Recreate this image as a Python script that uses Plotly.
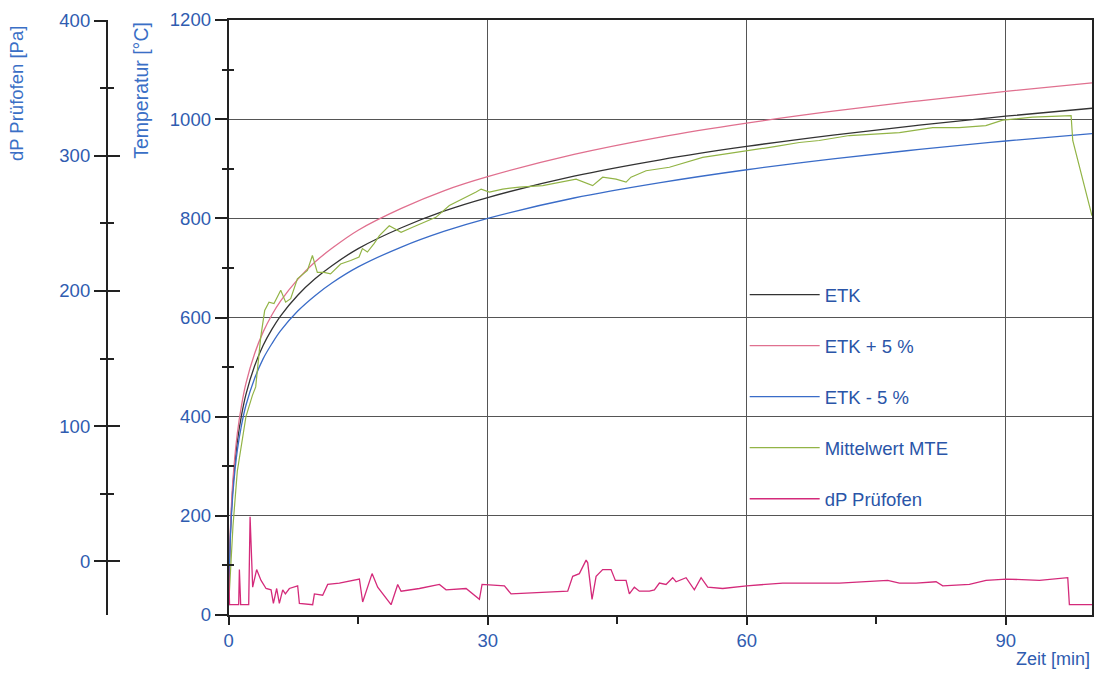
import plotly.graph_objects as go

# ---------------- data ----------------
etk_t = [0, 0.1, 0.25, 0.5, 1, 1.5, 2, 3, 4, 5, 6, 8, 10, 12, 15, 20, 25, 30, 40, 50, 60, 70, 80, 90, 100]
etk = [20, 108, 185, 261, 349, 404, 445, 502, 544, 576, 603, 645, 678, 705, 739, 781, 815, 842, 885, 918, 945, 968, 988, 1006, 1022]
etk_plus = [21, 113, 194, 274, 366, 424, 467, 527, 571, 605, 633, 677, 712, 740, 776, 820, 856, 884, 929, 964, 992, 1016, 1037, 1056, 1073]
etk_minus = [19, 103, 176, 248, 332, 384, 423, 477, 517, 547, 573, 613, 644, 670, 702, 742, 774, 800, 841, 872, 898, 920, 939, 956, 971]

mte_t = [0, 0.5, 1, 2, 2.75, 3.13, 3.71, 4.17, 4.67, 5.25, 6.03, 6.6, 7.18, 7.96, 9.12, 9.7, 10.27, 11.05, 11.8,
         12.97, 14.13, 15.1, 15.49, 16.07, 16.84, 17.46, 18.6, 19.2, 19.97, 21.3, 22.67, 24.0, 25.56, 27.5, 28.66,
         29.24, 30.2, 31.74, 33.67, 36.37, 38.3, 40.24, 42.16, 43.32, 44.87, 46.03, 46.6, 48.35, 51.05, 53.75, 54.9,
         57.6, 60.1, 63.4, 66.1, 68.4, 71.9, 77.7, 81.55, 84.6, 87.7, 89.66, 93.1, 97.0, 97.58, 97.77, 98.54, 99.3, 100]
mte = [20, 180, 290, 400, 443, 460, 560, 614, 631, 628, 655, 631, 638, 678, 695, 725, 691, 691, 688,
       708, 715, 722, 739, 732, 749, 765, 785, 779, 772, 782, 792, 802, 826, 842, 853,
       859, 853, 859, 863, 866, 873, 879, 866, 883, 879, 873, 883, 896, 903, 916, 923,
       930, 936, 945, 953, 957, 967, 973, 983, 983, 987, 998, 1004, 1007, 1007, 957, 903, 856, 805]

dp_t = [0, 0.1, 1.16, 1.24, 1.39, 2.32, 2.48, 2.78, 3.24, 3.75, 4.33, 4.91, 5.18, 5.56, 5.87, 6.26, 6.57, 7.03,
        7.99, 8.19, 9.73, 9.93, 10.89, 11.47, 12.82, 15.14, 15.52, 16.61, 17.26, 18.81, 19.58, 19.97, 22.09,
        24.41, 25.18, 27.5, 29.04, 29.35, 31.94, 32.71, 39.27, 39.85, 40.62, 41.4, 41.59, 42.09, 42.56, 43.32,
        44.29, 44.79, 46.03, 46.41, 46.99, 47.57, 48.73, 49.31, 49.89, 50.66, 51.43, 51.82, 52.98, 53.94, 54.72,
        55.49, 57.22, 60.0, 64.17, 70.74, 76.34, 77.69, 79.62, 81.94, 82.71, 85.8, 87.73, 90.05, 93.91, 97.19,
        97.38, 100]
dp = [-4, -32, -32, -6, -32, -32, 33, -19, -6, -14, -20, -21, -31, -20, -31, -21, -24, -20,
      -18, -31, -32, -24, -25, -17, -16, -13, -30, -9, -19, -32, -17, -22, -20,
      -17, -21, -20, -28, -17, -18, -24, -22, -11, -9, 1, -1, -28, -11, -6,
      -6, -14, -14, -24, -19, -22, -22, -21, -16, -17, -12, -15, -12, -21, -12,
      -19, -20, -18, -16, -16, -14, -16, -16, -15, -18, -17, -14, -13, -14, -12,
      -32, -32]

x_ticks = [0, 30, 60, 90]
x_minor = [15, 45, 75]
t_ticks = [0, 200, 400, 600, 800, 1000, 1200]
t_minor = [100, 300, 500, 700, 900, 1100]
p_ticks = [0, 100, 200, 300, 400]
p_minor = [50, 150, 250, 350]

# ---------------- style ----------------
FONT = "Liberation Sans, Arial, Helvetica, sans-serif"
BLUE = "#2f5cb0"
TITLE_BLUE = "#3a6fc6"
AX = "#222222"
GRID = "#555555"
TICK_FS = 18.5
LEG_FS = 18.5

W, H = 1099, 673
L, R, T, B = 60, 5, 20, 58
pw = W - L - R
ph = H - T - B
x0 = (229 - L) / pw
dp_pos = (107 - L) / pw

fig = go.Figure()
fig.add_trace(go.Scatter(x=etk_t, y=etk, name="ETK", mode="lines", legendgroup="g1",
                         line=dict(color="#333333", width=1.3, shape="spline")))
fig.add_trace(go.Scatter(x=etk_t, y=etk_plus, name="ETK + 5 %", mode="lines", legendgroup="g2",
                         line=dict(color="#e0708f", width=1.3, shape="spline")))
fig.add_trace(go.Scatter(x=etk_t, y=etk_minus, name="ETK - 5 %", mode="lines", legendgroup="g3",
                         line=dict(color="#3a6cc8", width=1.3, shape="spline")))
fig.add_trace(go.Scatter(x=mte_t, y=mte, name="Mittelwert MTE", mode="lines", legendgroup="g4",
                         line=dict(color="#92b446", width=1.2)))
fig.add_trace(go.Scatter(x=dp_t, y=dp, name="dP Prüfofen", mode="lines", legendgroup="g5", yaxis="y2",
                         line=dict(color="#d42a7a", width=1.3)))
# helper traces so that the tick-only overlay axes are drawn
fig.add_trace(go.Scatter(x=[None], y=[None], yaxis="y3", showlegend=False, hoverinfo="skip"))
fig.add_trace(go.Scatter(x=[None], y=[None], yaxis="y4", showlegend=False, hoverinfo="skip"))

fig.update_layout(
    width=W, height=H,
    margin=dict(l=L, r=R, t=T, b=B, pad=0),
    paper_bgcolor="white", plot_bgcolor="white",
    font=dict(family=FONT, size=TICK_FS, color=BLUE),
    xaxis=dict(domain=[x0, 1], range=[0, 100], tickmode="array", tickvals=x_ticks,
               ticks="outside", ticklen=8, tickwidth=1.5, tickcolor=AX,
               minor=dict(tickmode="array", tickvals=x_minor, ticks="outside", ticklen=7,
                          tickwidth=1.5, tickcolor=AX, showgrid=False),
               showgrid=True, gridcolor=GRID, gridwidth=1,
               showline=True, linecolor=AX, linewidth=2, mirror=True, zeroline=False,
               tickfont=dict(size=TICK_FS, color=BLUE), anchor="y"),
    yaxis=dict(range=[0, 1200], tickmode="array", tickvals=t_ticks,
               ticks="outside", ticklen=12, tickwidth=1.5, tickcolor=AX,
               minor=dict(tickmode="array", tickvals=t_minor, ticks="outside", ticklen=5,
                          tickwidth=1.5, tickcolor=AX, showgrid=False),
               showgrid=True, gridcolor=GRID, gridwidth=1,
               showline=True, linecolor=AX, linewidth=2, mirror=True, zeroline=False,
               tickfont=dict(size=TICK_FS, color=BLUE), anchor="x"),
    yaxis3=dict(overlaying="y", anchor="x", side="left", range=[0, 1200], tickmode="array",
                tickvals=t_minor, ticks="inside", ticklen=5, tickwidth=1.5, tickcolor=AX,
                showticklabels=False, showgrid=False, zeroline=False, showline=False),
    yaxis2=dict(overlaying="y", anchor="free", position=dp_pos, side="left",
                range=[-39.6, 400.4], tickmode="array", tickvals=p_ticks,
                ticks="outside", ticklen=12, tickwidth=1.5, tickcolor=AX,
                minor=dict(tickmode="array", tickvals=p_minor, ticks="outside", ticklen=6,
                           tickwidth=1.5, tickcolor=AX, showgrid=False),
                showline=True, linecolor=AX, linewidth=2, showgrid=False, zeroline=False,
                tickfont=dict(size=TICK_FS, color=BLUE)),
    yaxis4=dict(overlaying="y", anchor="free", position=dp_pos, side="left",
                range=[-39.6, 400.4], tickmode="array", tickvals=p_ticks,
                ticks="inside", ticklen=12, tickwidth=1.5, tickcolor=AX,
                minor=dict(tickmode="array", tickvals=p_minor, ticks="inside", ticklen=6,
                           tickwidth=1.5, tickcolor=AX, showgrid=False),
                showticklabels=False, showline=False, showgrid=False, zeroline=False),
    legend=dict(x=(746 - L) / pw, y=(615 - 276) / ph, xanchor="left", yanchor="top",
                bgcolor="rgba(0,0,0,0)", font=dict(size=LEG_FS, color="#2a55a8"),
                tracegroupgap=24, itemwidth=70, traceorder="grouped"),
    showlegend=True,
    annotations=[
        dict(text="dP Prüfofen [Pa]", xref="paper", yref="paper", x=(16 - L) / pw,
             y=(615 - 94) / ph, xanchor="center", yanchor="middle", textangle=-90, showarrow=False,
             font=dict(size=18.5, color=TITLE_BLUE)),
        dict(text="Temperatur [°C]", xref="paper", yref="paper", x=(141 - L) / pw,
             y=(615 - 90) / ph, xanchor="center", yanchor="middle", textangle=-90, showarrow=False,
             font=dict(size=19.5, color=TITLE_BLUE)),
        dict(text="Zeit [min]", xref="paper", yref="paper", x=1.0, y=(615 - 659) / ph,
             xanchor="right", yanchor="middle", showarrow=False,
             font=dict(size=18, color=BLUE)),
    ],
)

fig.write_html("out.html", config={"displayModeBar": False},
               post_script="document.body.style.margin='0';document.body.style.padding='0';"
                           "document.body.style.overflow='hidden';")
